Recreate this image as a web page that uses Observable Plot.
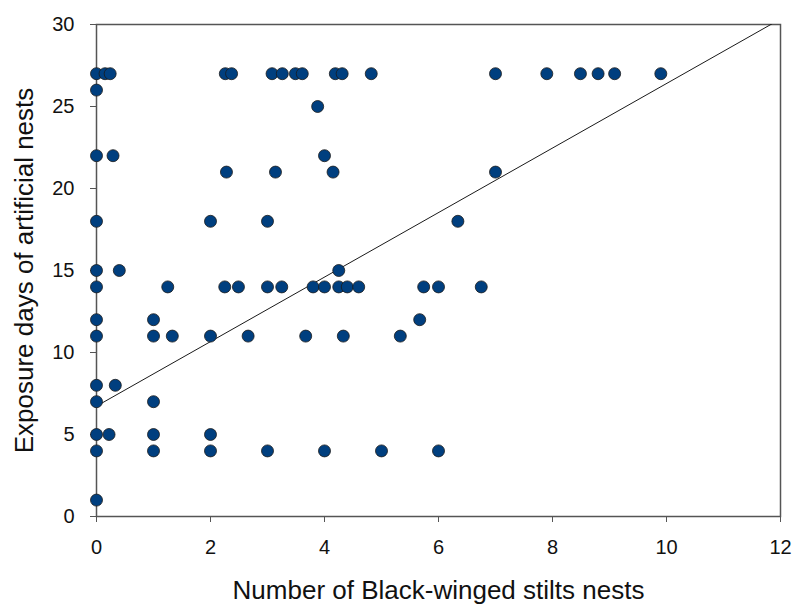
<!DOCTYPE html>
<html>
<head>
<meta charset="utf-8">
<script src="https://cdn.jsdelivr.net/npm/d3@7"></script>
<script src="https://cdn.jsdelivr.net/npm/@observablehq/plot@0.6"></script>
<style>
  html, body { margin: 0; padding: 0; background: #fff; }
</style>
</head>
<body>
<div id="chart"></div>
<script>
// Black-winged stilt nest counts vs. exposure days of artificial nests
const nests = [
  // exposure 27
  0, 0.15, 0.24, 2.26, 2.37, 3.08, 3.26, 3.49, 3.61, 4.19, 4.31, 4.82, 7.0, 7.9, 8.49, 8.8, 9.09, 9.9,
  // 26, 25
  0, 3.88,
  // 22
  0, 0.29, 4.0,
  // 21
  2.28, 3.14, 4.15, 7.0,
  // 18
  0, 2.0, 3.0, 6.34,
  // 15
  0, 0.4, 4.25,
  // 14
  0, 1.25, 2.25, 2.49, 3.0, 3.25, 3.8, 4.0, 4.25, 4.4, 4.6, 5.74, 6.0, 6.75,
  // 12
  0, 1.0, 5.67,
  // 11
  0, 1.0, 1.33, 2.0, 2.66, 3.67, 4.33, 5.33,
  // 8, 7
  0, 0.33, 0, 1.0,
  // 5
  0, 0.22, 1.0, 2.0,
  // 4
  0, 1.0, 2.0, 3.0, 4.0, 5.0, 6.0,
  // 1
  0
];
const exposureDays = [
  27, 27, 27, 27, 27, 27, 27, 27, 27, 27, 27, 27, 27, 27, 27, 27, 27, 27,
  26, 25,
  22, 22, 22,
  21, 21, 21, 21,
  18, 18, 18, 18,
  15, 15, 15,
  14, 14, 14, 14, 14, 14, 14, 14, 14, 14, 14, 14, 14, 14,
  12, 12, 12,
  11, 11, 11, 11, 11, 11, 11, 11,
  8, 8, 7, 7,
  5, 5, 5, 5,
  4, 4, 4, 4, 4, 4, 4,
  1
];

// Least-squares fit drawn across the axis range
const fitIntercept = 6.73;
const fitSlope = 1.967;
const fitX = [0, 12];

const xTicks = [0, 2, 4, 6, 8, 10, 12];
const yTicks = [0, 5, 10, 15, 20, 25, 30];

const xTitle = "Number of Black-winged stilts nests";
const yTitle = "Exposure days of artificial nests";

const points = nests.map((n, i) => ({n, d: exposureDays[i]}));
const fit = fitX.map(x => ({x, y: fitIntercept + fitSlope * x}));

const axisColor = "#555";

const chart = Plot.plot({
  width: 794,
  height: 608,
  marginTop: 24,
  marginRight: 14,
  marginBottom: 92,
  marginLeft: 96,
  style: {fontFamily: "'Liberation Sans', Arial, sans-serif", color: "#111", background: "#fff"},
  x: {domain: [0, 12]},
  y: {domain: [0, 30]},
  marks: [
    Plot.axisX({ticks: xTicks, tickSize: 6, tickPadding: 17, fontSize: 20, stroke: axisColor, label: null}),
    Plot.axisY({ticks: yTicks, tickSize: 6, tickPadding: 16, fontSize: 20, stroke: axisColor, label: null}),
    Plot.frame({stroke: axisColor, strokeWidth: 1.5}),
    Plot.line(fit, {x: "x", y: "y", stroke: "#1a1a1a", strokeWidth: 1, clip: true}),
    Plot.dot(points, {x: "n", y: "d", r: 6, fill: "#003f7f", stroke: "#1a1a1a", strokeWidth: 0.8}),
    Plot.text([xTitle], {
      frameAnchor: "bottom", dy: 74, textAnchor: "middle", lineAnchor: "middle",
      fontSize: 26, fill: "#111"
    }),
    Plot.text([yTitle], {
      frameAnchor: "left", rotate: -90, dx: -72, textAnchor: "middle", lineAnchor: "middle",
      fontSize: 26, fill: "#111"
    })
  ]
});

document.getElementById("chart").appendChild(chart);
</script>
</body>
</html>
